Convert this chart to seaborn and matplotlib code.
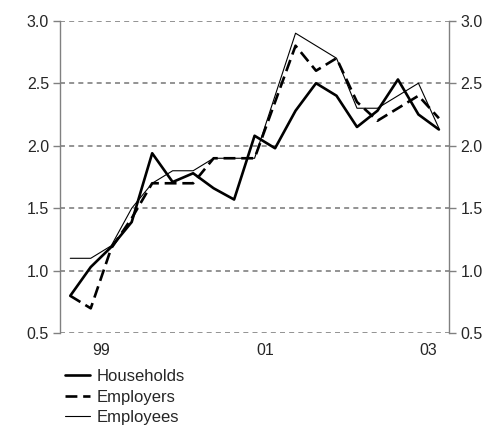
import matplotlib
import numpy as np
import pandas as pd

matplotlib.use('Agg')
import matplotlib.pyplot as plt
import seaborn as sns

# quarterly observations, 1999 Q1 .. 2003 Q3
quarters = list(range(19))
year_labels = ["99", "", "01", "", "03"]
households = [0.80, 1.03, 1.19, 1.39, 1.94, 1.71, 1.78, 1.66, 1.57, 2.08,
              1.98, 2.28, 2.50, 2.40, 2.15, 2.28, 2.53, 2.25, 2.13]
employers = [0.80, 0.70, 1.18, 1.42, 1.70, 1.70, 1.70, 1.90, 1.90, 1.90,
             2.35, 2.80, 2.60, 2.70, 2.35, 2.20, 2.30, 2.40, 2.22]
employees = [1.10, 1.10, 1.20, 1.50, 1.70, 1.80, 1.80, 1.90, 1.90, 1.90,
             2.40, 2.90, 2.80, 2.70, 2.30, 2.30, 2.40, 2.50, 2.14]

df = pd.DataFrame({"q": quarters, "Households": households,
                   "Employers": employers, "Employees": employees})

sns.set_style("white")
plt.rcParams['font.family'] = ['Liberation Sans', 'DejaVu Sans']
plt.rcParams['font.size'] = 11.5

fig = plt.figure(figsize=(4.84, 4.25), dpi=100)
ax = fig.add_axes([0.124, 0.2157, 0.804, 0.7356])

sns.lineplot(data=df, x="q", y="Households", ax=ax, color="black", lw=1.9, label="Households")
sns.lineplot(data=df, x="q", y="Employers", ax=ax, color="black", lw=1.9,
             label="Employers").lines[-1].set_dashes([4.5, 2.2])
sns.lineplot(data=df, x="q", y="Employees", ax=ax, color="black", lw=0.8, label="Employees")

ax.set_xlim(-0.5, 18.5)
ax.set_ylim(0.5, 3.0)
yt = np.arange(0.5, 3.01, 0.5)
ax.set_yticks(yt)
ax.set_yticklabels([f"{v:.1f}" for v in yt])
for v in yt:
    ax.axhline(v, color="#808080", lw=1.2, ls=(0, (3, 2.5)), zorder=0)

ax.set_xticks([-0.5, 3.5, 7.5, 11.5, 15.5])
ax.set_xticklabels([])
ax.set_xticks([1.5, 5.5, 9.5, 13.5, 17.5], minor=True)
ax.set_xticklabels(year_labels, minor=True)
ax.tick_params(axis="x", which="major", length=5, width=1, color="#808080", direction="out")
ax.tick_params(axis="x", which="minor", length=0, pad=7)
ax.tick_params(axis="y", length=5, width=1, color="#808080", direction="out",
               left=True, right=True, labelleft=True, labelright=True, pad=3)
ax.set_xlabel("")
ax.set_ylabel("")

ax.spines["top"].set_visible(False)
ax.spines["bottom"].set_visible(False)
for side in ["left", "right"]:
    ax.spines[side].set_color("#808080")
    ax.spines[side].set_linewidth(1)

handles, labels = ax.get_legend_handles_labels()
ax.get_legend().remove()
fig.legend(handles, labels, loc="upper left", bbox_to_anchor=(0.134, 0.131),
           frameon=False, handlelength=1.5, handletextpad=0.4, labelspacing=0.32,
           borderaxespad=0, borderpad=0, fontsize=12)

fig.savefig("out.png", dpi=100)
